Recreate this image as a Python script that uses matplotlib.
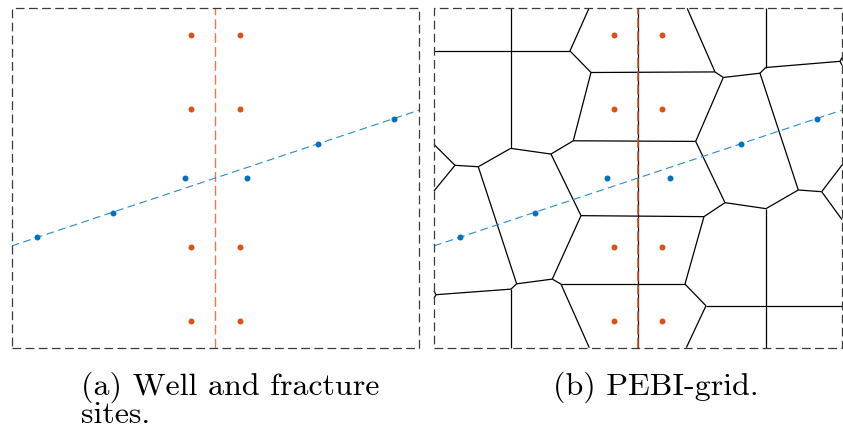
import matplotlib
matplotlib.use("Agg")
import matplotlib.pyplot as plt
from matplotlib.collections import LineCollection

# domain is 1.2 x 1.0
W, H = 1.2, 1.0

# fracture (vertical, x = 0.6) and its sites
frac_x = 0.6
frac_site_x = [0.528, 0.672]
frac_site_y = [0.0775, 0.296, 0.704, 0.9225]

# well (dashed line) and well sites
well_line_x = [0.0, 1.2]
well_line_y = [0.3, 0.7]
well_x = [0.0754, 0.2985, 0.5097, 0.6933, 0.9034, 1.1273]
well_y = [0.325, 0.398, 0.5, 0.5, 0.600, 0.6747]

# PEBI (Voronoi) cell edges: (x1, y1, x2, y2)
pebi_edges = [
    (0.2256, 1.0, 0.2256, 0.5874),
    (0.0, 0.8744, 0.4, 0.8744),
    (0.4, 0.8744, 0.4559, 1.0),
    (0.4, 0.8744, 0.4618, 0.8109),
    (0.4618, 0.8109, 0.8265, 0.8126),
    (0.8265, 0.8126, 0.7447, 1.0),
    (0.8265, 0.8126, 0.8509, 0.7962),
    (0.8509, 0.7962, 0.9588, 0.8088),
    (0.9588, 0.8088, 0.9756, 0.8256),
    (0.9756, 0.8256, 0.9756, 1.0),
    (0.9756, 0.8256, 1.1941, 0.8438),
    (1.1941, 0.8438, 1.2, 0.832),
    (1.1941, 0.8438, 1.2, 0.855),
    (0.4618, 0.8109, 0.4097, 0.6097),
    (0.4097, 0.6097, 0.7697, 0.6079),
    (0.8509, 0.7962, 0.7697, 0.6079),
    (0.4097, 0.6097, 0.3441, 0.5706),
    (0.2256, 0.5874, 0.3441, 0.5706),
    (0.2256, 0.5874, 0.1303, 0.5332),
    (0.1303, 0.5332, 0.0618, 0.5374),
    (0.0618, 0.5374, 0.0, 0.5991),
    (0.0618, 0.5374, 0.0, 0.4618),
    (0.1303, 0.5332, 0.2432, 0.1882),
    (0.3441, 0.5706, 0.4324, 0.3891),
    (0.4324, 0.3891, 0.7941, 0.3862),
    (0.4324, 0.3891, 0.3479, 0.2021),
    (0.3479, 0.2021, 0.2432, 0.1882),
    (0.3479, 0.2021, 0.3735, 0.1874),
    (0.3735, 0.1874, 0.7382, 0.1874),
    (0.3735, 0.1874, 0.4568, 0.0),
    (0.2432, 0.1882, 0.2265, 0.1726),
    (0.2265, 0.1726, 0.2265, 0.0),
    (0.2265, 0.1726, 0.0059, 0.1562),
    (0.0059, 0.1562, 0.0, 0.168),
    (0.0059, 0.1562, 0.0, 0.145),
    (0.7697, 0.6079, 0.8559, 0.4274),
    (0.8559, 0.4274, 0.7941, 0.3862),
    (0.8559, 0.4274, 0.9765, 0.4097),
    (0.9765, 0.4097, 0.9765, 0.0),
    (0.9765, 0.4097, 1.0715, 0.4647),
    (1.0715, 0.4647, 0.9588, 0.8088),
    (1.0715, 0.4647, 1.1403, 0.4597),
    (1.1403, 0.4597, 1.2, 0.5382),
    (1.1403, 0.4597, 1.2, 0.3774),
    (0.7941, 0.3862, 0.7382, 0.1874),
    (0.7382, 0.1874, 0.8, 0.1235),
    (0.8, 0.1235, 1.2, 0.1235),
    (0.8, 0.1235, 0.7421, 0.0),
    (0.6, 0.0, 0.6, 1.0),
]

blue = "#0072BD"
orange = "#D95319"

plt.rcParams["font.family"] = "cmr10"
plt.rcParams["axes.formatter.use_mathtext"] = True

fig = plt.figure(figsize=(8.43, 4.29), dpi=100)
ax_a = fig.add_axes([0.0139, 0.1895, 0.4832, 0.7911])
ax_b = fig.add_axes([0.5148, 0.1895, 0.4840, 0.7911])


def frame(ax):
    ax.set_xlim(0, W)
    ax.set_ylim(0, H)
    ax.axis("off")
    ax.plot([0, W, W, 0, 0], [0, 0, H, H, 0], color="#3a3a3a", lw=0.9,
            ls=(0, (7, 3.5)), clip_on=False, zorder=5)


def sites(ax):
    ax.plot(well_line_x, well_line_y, color="#2a8ad0", lw=0.8,
            ls=(0, (7, 4)), zorder=3)
    for y in frac_site_y:
        ax.plot(frac_site_x, [y, y], ls="none", marker="o", ms=4.3,
                color=orange, mec="none", zorder=4)
    ax.plot(well_x, well_y, ls="none", marker="o", ms=4.3, color=blue,
            mec="none", zorder=4)


# (a) well and fracture sites
frame(ax_a)
ax_a.plot([frac_x, frac_x], [0, H], color="#E67A4C", lw=1.0, ls=(0, (7, 3)),
          zorder=3)
sites(ax_a)

# (b) PEBI grid
frame(ax_b)
segs = [[(e[0], e[1]), (e[2], e[3])] for e in pebi_edges]
ax_b.add_collection(LineCollection(segs, colors="black", linewidths=0.9,
                                   zorder=2, clip_on=False))
ax_b.plot([frac_x, frac_x], [0, H], color=orange, lw=1.2, ls=(0, (6, 2)),
          zorder=3)
sites(ax_b)

fs = 23
fig.text(0.0957, 0.0809, "(a) Well and fracture", fontsize=fs,
         va="baseline", ha="left")
fig.text(0.0957, 0.0133, "sites.", fontsize=fs, va="baseline", ha="left")
fig.text(0.6556, 0.0809, "(b) PEBI-grid.", fontsize=fs, va="baseline",
         ha="left")

fig.savefig("out.png", dpi=100)
